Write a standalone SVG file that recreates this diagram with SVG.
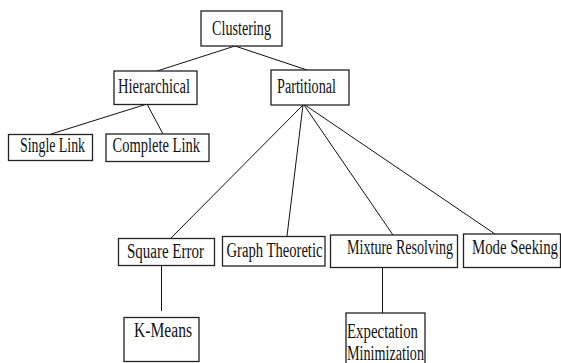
<svg xmlns="http://www.w3.org/2000/svg" width="561" height="363" viewBox="0 0 561 363">
<style>
.box{fill:#fff;stroke:#222;stroke-width:1.3}
.t{font-family:"Liberation Serif","Times New Roman",serif;font-size:20.5px;fill:#111}
.c{stroke:#111;stroke-width:1;fill:none}
</style>
<rect width="561" height="363" fill="#fff"/>
<g id="connectors">
<line class="c" x1="235" y1="46" x2="157" y2="71"/>
<line class="c" x1="235" y1="46" x2="307" y2="70"/>
<line class="c" x1="147" y1="104" x2="48" y2="135"/>
<line class="c" x1="147" y1="104" x2="163" y2="134"/>
<line class="c" x1="303" y1="105" x2="170" y2="239"/>
<line class="c" x1="303" y1="105" x2="287" y2="236"/>
<line class="c" x1="304" y1="105" x2="393" y2="235"/>
<line class="c" x1="305" y1="105" x2="495" y2="234"/>
<line class="c" x1="161.5" y1="266" x2="161.5" y2="311"/>
<line class="c" x1="382.5" y1="267" x2="382.5" y2="313"/>
</g>
<g id="clustering"><rect class="box" x="201" y="11" width="81" height="35"/><text class="t" x="212" y="34.5" textLength="59" lengthAdjust="spacingAndGlyphs">Clustering</text></g>
<g id="hierarchical"><rect class="box" x="114" y="71" width="83" height="33.5"/><text class="t" x="118" y="92.5" textLength="72" lengthAdjust="spacingAndGlyphs">Hierarchical</text></g>
<g id="partitional"><rect class="box" x="271" y="70" width="78" height="35"/><text class="t" x="277" y="92.5" textLength="59" lengthAdjust="spacingAndGlyphs">Partitional</text></g>
<g id="single-link"><rect class="box" x="8.5" y="134.5" width="84" height="26"/><text class="t" x="20" y="151.5" textLength="65" lengthAdjust="spacingAndGlyphs">Single Link</text></g>
<g id="complete-link"><rect class="box" x="106" y="134" width="103" height="27.5"/><text class="t" x="112.5" y="152" textLength="87.5" lengthAdjust="spacingAndGlyphs">Complete Link</text></g>
<g id="square-error"><rect class="box" x="118.5" y="238.5" width="96" height="27"/><text class="t" x="127" y="257.5" textLength="77" lengthAdjust="spacingAndGlyphs">Square Error</text></g>
<g id="graph-theoretic"><rect class="box" x="222.5" y="236.5" width="102.5" height="29.5"/><text class="t" x="226.5" y="257" textLength="96" lengthAdjust="spacingAndGlyphs">Graph Theoretic</text></g>
<g id="mixture-resolving"><rect class="box" x="330.5" y="235" width="127" height="32.5"/><text class="t" x="347" y="254" textLength="106" lengthAdjust="spacingAndGlyphs">Mixture Resolving</text></g>
<g id="mode-seeking"><rect class="box" x="463.5" y="234" width="97" height="33.5"/><text class="t" x="472" y="254" textLength="86" lengthAdjust="spacingAndGlyphs">Mode Seeking</text></g>
<g id="k-means"><rect class="box" x="124" y="317.5" width="75" height="44"/><text class="t" x="134" y="337" textLength="58" lengthAdjust="spacingAndGlyphs">K-Means</text></g>
<g id="expectation-minimization"><rect class="box" x="346" y="313" width="79" height="52"/><text class="t" x="347" y="337.5" textLength="71" lengthAdjust="spacingAndGlyphs">Expectation</text><text class="t" x="347" y="360" textLength="77" lengthAdjust="spacingAndGlyphs">Minimization</text></g>
</svg>
